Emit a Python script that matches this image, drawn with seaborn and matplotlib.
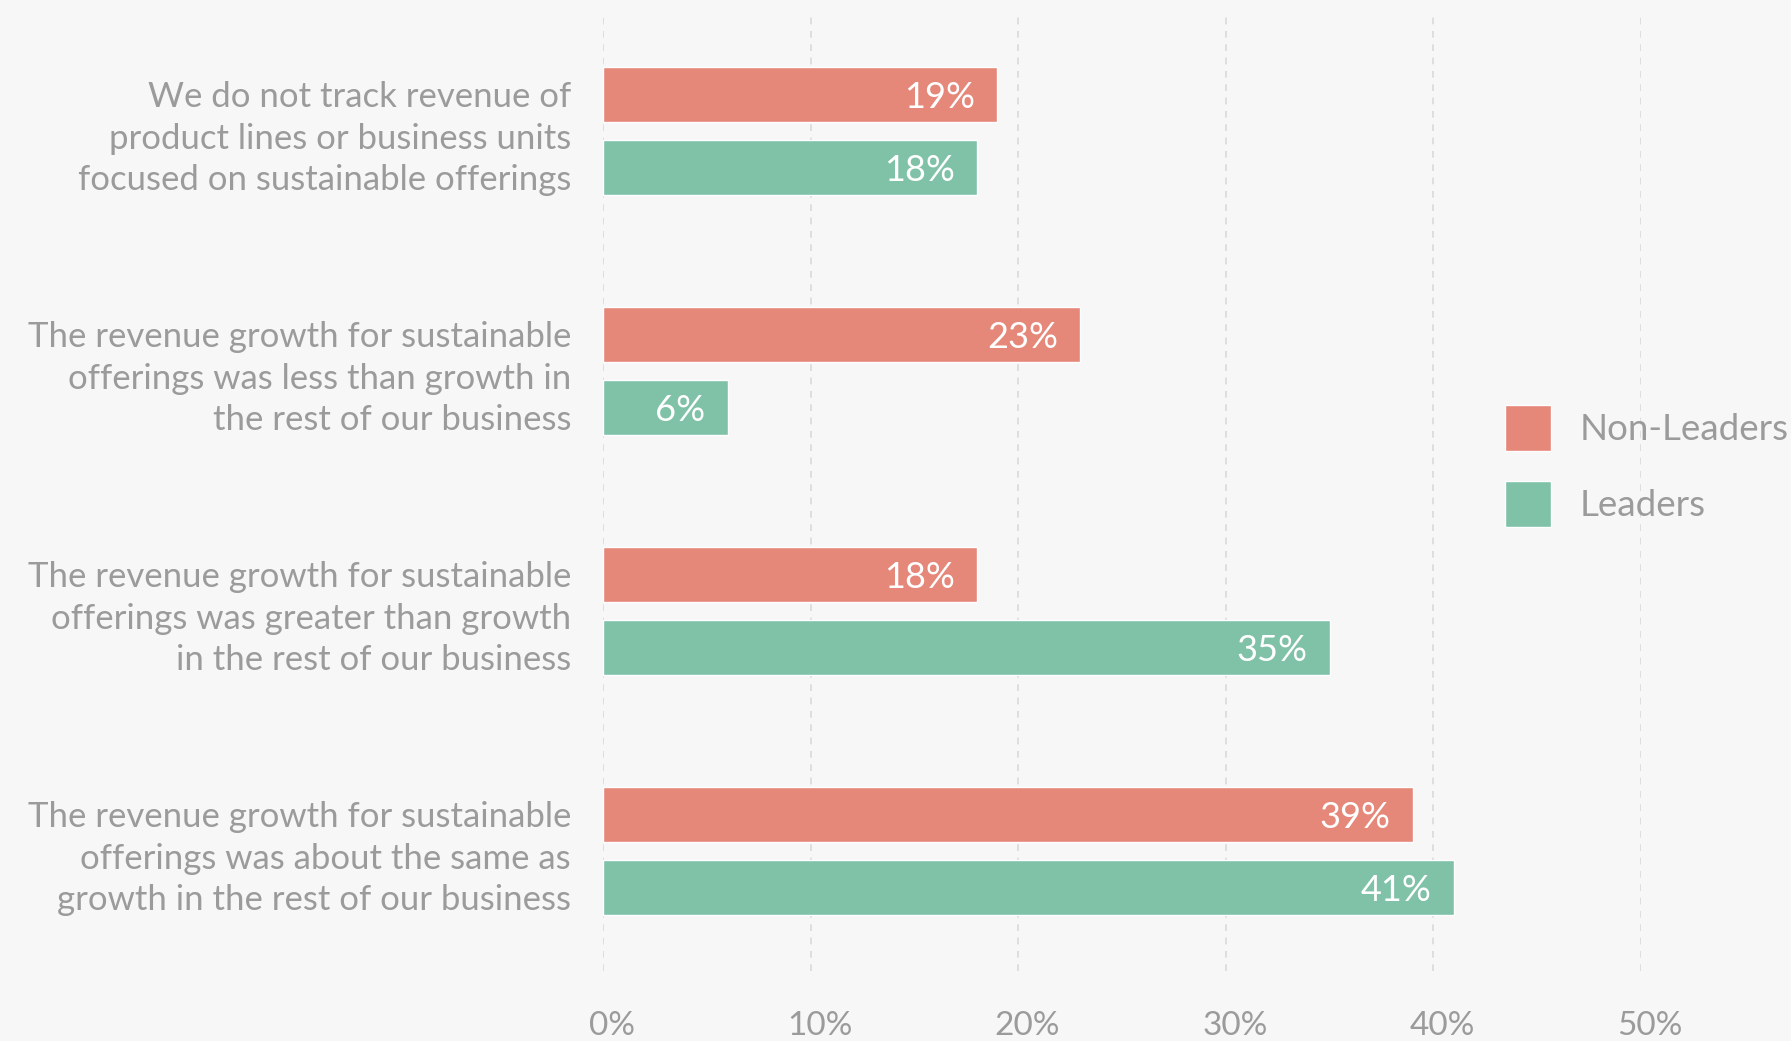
import pandas as pd
import matplotlib.pyplot as plt
import matplotlib.transforms as mtransforms
import seaborn as sns

# Survey answers (percent of respondents)
questions = [
    "We do not track revenue of\nproduct lines or business units\nfocused on sustainable offerings",
    "The revenue growth for sustainable\nofferings was less than growth in\nthe rest of our business",
    "The revenue growth for sustainable\nofferings was greater than growth\nin the rest of our business",
    "The revenue growth for sustainable\nofferings was about the same as\ngrowth in the rest of our business",
]
groups = ["Non-Leaders", "Leaders"]
non_leaders = [19, 23, 18, 39]
leaders = [18, 6, 35, 41]
x_ticks = [0, 10, 20, 30, 40, 50]

colors = {"Non-Leaders": "#E58779", "Leaders": "#80C2A8"}
bg = "#F7F7F7"
text_grey = "#9B9B9B"

df = pd.DataFrame({
    "question": questions * 2,
    "group": [groups[0]] * 4 + [groups[1]] * 4,
    "value": non_leaders + leaders,
})

sns.set_style("white")
plt.rcParams["font.family"] = ["Lato", "DejaVu Sans"]

fig = plt.figure(figsize=(17.91, 10.41), dpi=100, facecolor=bg)
ax = fig.add_axes([603 / 1791, 1 - 971 / 1041, (1641 - 603) / 1791, (971 - 11) / 1041])
ax.set_facecolor(bg)

sns.barplot(data=df, y="question", x="value", hue="group", orient="h",
            palette=colors, width=0.61, gap=0.25, saturation=1, ax=ax)

# value labels inside the bar ends
for c in ax.containers:
    texts = ax.bar_label(c, labels=[f"{v:.0f}%" for v in c.datavalues],
                         padding=-16, color="white", fontsize=26)
    for t in texts:
        t.set_ha("right")
        t.set_va("center_baseline")

ax.set_xlim(0, 50)
ax.set_xticks(x_ticks)
ax.set_xticklabels([f"{t}%" for t in x_ticks])
ax.set_xlabel("")
ax.set_ylabel("")
ax.grid(axis="x", color="#D9D9D9", linestyle=(0, (4, 4)), linewidth=1.2)
ax.set_axisbelow(True)
for s in ax.spines.values():
    s.set_visible(False)
ax.tick_params(axis="x", length=0, pad=29, labelsize=24, labelcolor=text_grey)
ax.tick_params(axis="y", length=0, pad=23, labelsize=25, labelcolor=text_grey)
for lab in ax.get_yticklabels():
    lab.set_linespacing(1.36)
shift = mtransforms.ScaledTranslation(0.09, 0, fig.dpi_scale_trans)
for lab in ax.get_xticklabels():
    lab.set_transform(lab.get_transform() + shift)

ax.legend(loc="upper left", bbox_to_anchor=(1505 / 1791, 1 - 405 / 1041),
          bbox_transform=fig.transFigure, frameon=False, fontsize=26.5,
          labelcolor=text_grey, handlelength=1.24, handleheight=1.53,
          handletextpad=0.78, labelspacing=0.83, borderpad=0, borderaxespad=0)

fig.savefig("out.png", dpi=100, facecolor=bg)
